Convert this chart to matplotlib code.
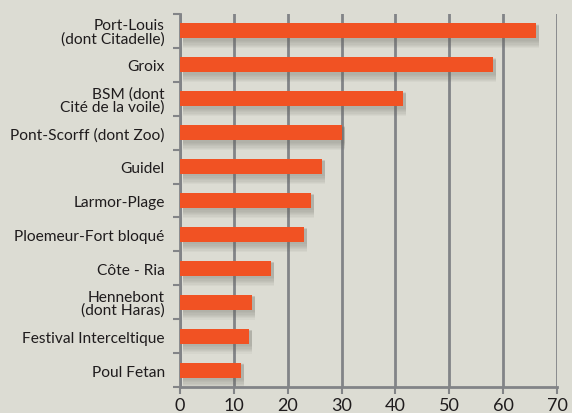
import matplotlib.pyplot as plt
import numpy as np

labels = [
    "Port-Louis\n(dont Citadelle)",
    "Groix",
    "BSM (dont\nCité de la voile)",
    "Pont-Scorff (dont Zoo)",
    "Guidel",
    "Larmor-Plage",
    "Ploemeur-Fort bloqué",
    "Côte - Ria",
    "Hennebont\n(dont Haras)",
    "Festival Interceltique",
    "Poul Fetan",
]
values = [66.1, 58.1, 41.4, 30.1, 26.4, 24.3, 23.0, 16.9, 13.4, 12.8, 11.3]
xticks = [0, 10, 20, 30, 40, 50, 60, 70]

BG = "#dcdcd3"
BAR = "#f15223"
GRID = "#828487"
TXT = "#1f1c1d"

plt.rcParams["font.family"] = ["Lato", "DejaVu Sans"]

fig = plt.figure(figsize=(5.72, 4.14), dpi=100, facecolor=BG)
ax = fig.add_axes([0.3147, 0.0628, 0.659, 0.901])
ax.set_facecolor(BG)

n = len(labels)
y = np.arange(n)[::-1]
h = 0.44

# soft drop shadow
for k in range(7):
    ax.barh(y - 0.07 - k * 0.015, values, height=h + k * 0.045, left=0.5,
            color="#66665e", alpha=0.06, zorder=2)

ax.barh(y, values, height=h, color=BAR, zorder=3)

ax.set_xlim(0, 70)
ax.set_ylim(-0.5, n - 0.5)
ax.set_xticks(xticks)
ax.set_xticklabels([str(t) for t in xticks], fontsize=13, color=TXT)
ax.xaxis.grid(True, color=GRID, linewidth=2, zorder=1)
ax.set_axisbelow(True)

ax.set_yticks(y)
ax.set_yticklabels(labels, fontsize=11.2, color=TXT, linespacing=0.9)
ax.tick_params(axis="y", length=0, pad=11)
ax.set_yticks(np.arange(-0.5, n, 1.0), minor=True)
ax.tick_params(axis="y", which="minor", length=5, width=1.5, color=GRID)
ax.tick_params(axis="x", length=5, width=1.5, color=GRID, pad=2)

for s in ["top", "right"]:
    ax.spines[s].set_visible(False)
ax.spines["left"].set_color(GRID)
ax.spines["left"].set_linewidth(2)
ax.spines["bottom"].set_color(GRID)
ax.spines["bottom"].set_linewidth(2)

fig.savefig("out.png", dpi=100, facecolor=BG)
